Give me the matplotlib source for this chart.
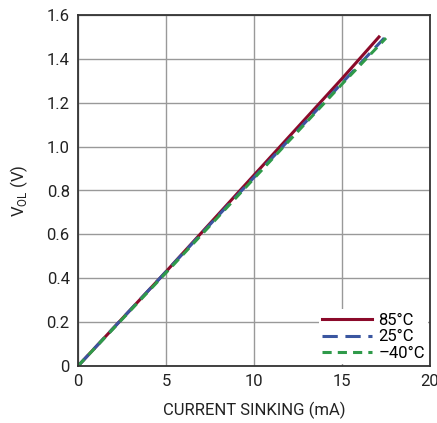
import matplotlib.pyplot as plt

# current sinking (mA) vs V_OL (V)
current_85 = [0, 5, 10, 15, 17.1]
vol_85 = [0, 0.43, 0.87, 1.31, 1.50]
current_25 = [0, 5, 10, 15, 17.4]
vol_25 = [0, 0.43, 0.86, 1.29, 1.495]
current_m40 = [0, 5, 10, 15, 17.5]
vol_m40 = [0, 0.425, 0.855, 1.285, 1.495]

xticks = [0, 5, 10, 15, 20]
yticks = [0, 0.2, 0.4, 0.6, 0.8, 1.0, 1.2, 1.4, 1.6]
ytick_labels = ['0', '0.2', '0.4', '0.6', '0.8', '1.0', '1.2', '1.4', '1.6']

plt.rcParams['font.family'] = ['Roboto', 'DejaVu Sans']

fig = plt.figure(figsize=(4.37, 4.23), dpi=100)
ax = fig.add_axes([78 / 437, 57 / 423, 352 / 437, 351 / 423])

ax.plot(current_85, vol_85, color='#8b0a2a', lw=2.2, label='85°C')
ax.plot(current_25, vol_25, color='#3a56a0', lw=2.2, dashes=(5, 2.5), label='25°C')
ax.plot(current_m40, vol_m40, color='#2f9a4a', lw=2.2, dashes=(3, 2), label='–40°C')

ax.set_xlim(0, 20)
ax.set_ylim(0, 1.6)
ax.set_xticks(xticks)
ax.set_yticks(yticks)
ax.set_yticklabels(ytick_labels)
ax.grid(True, color='#999999', lw=1)
ax.set_axisbelow(True)
ax.tick_params(length=0, labelsize=12, colors='#222222', pad=6)
for s in ax.spines.values():
    s.set_color('#333333')
    s.set_linewidth(1.3)

ax.set_xlabel('CURRENT SINKING (mA)', fontsize=12, color='#222222', labelpad=9)
ax.set_ylabel('V$_{\\mathregular{OL}}$ (V)', fontsize=12, color='#222222', labelpad=12)

leg = ax.legend(loc='lower right', frameon=True, fancybox=False, fontsize=12,
                handlelength=3.0, borderaxespad=0.1, labelspacing=0.1,
                handletextpad=0.4, borderpad=0.2)
leg.get_frame().set_edgecolor('none')
leg.get_frame().set_facecolor('white')
leg.get_frame().set_alpha(1)

fig.savefig('out.png', dpi=100)
